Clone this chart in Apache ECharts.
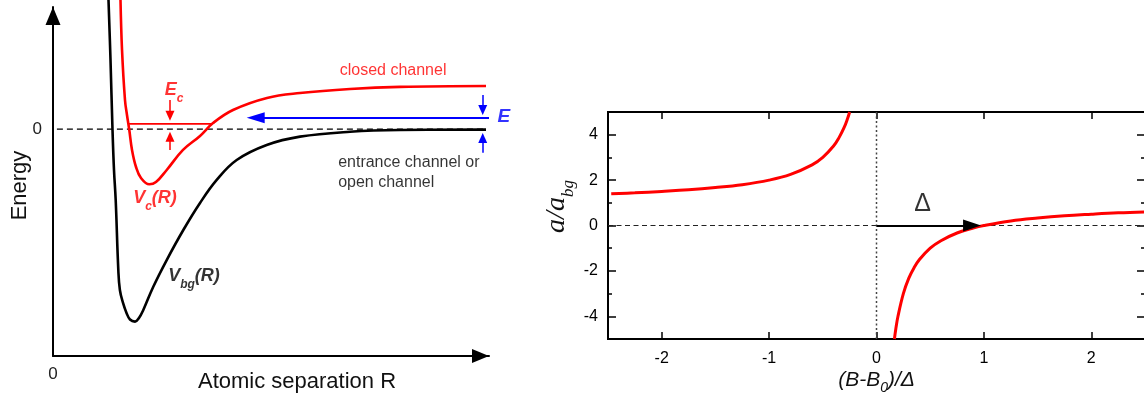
<!DOCTYPE html>
<html>
<head>
<meta charset="utf-8">
<script src="https://cdn.jsdelivr.net/npm/echarts@6.0.0/dist/echarts.min.js"></script>
<style>html,body{margin:0;padding:0;background:#fff}#c{width:1144px;height:394px}</style>
</head>
<body>
<div id="c"></div>
<script>
// ---- Left panel: potential curves (R in arbitrary units, energy in arbitrary units) ----
const bgR = [1.273, 1.319, 1.365, 1.399, 1.438, 1.498, 1.534, 1.606, 1.686, 1.766, 1.881, 1.972, 2.071, 2.300, 2.608, 2.989, 3.372, 3.755, 4.213, 4.901, 5.665, 6.812, 7.959, 9.931];
const bgE = [7.40, 3.96, -0.05, -2.34, -4.06, -8.07, -9.22, -9.96, -10.53, -10.91, -11.03, -10.82, -10.36, -9.03, -7.50, -5.78, -4.23, -2.91, -1.77, -0.91, -0.43, -0.15, -0.05, -0.03];
const cR = [1.548, 1.583, 1.651, 1.697, 1.750, 1.812, 1.904, 2.018, 2.209, 2.362, 2.608, 2.982, 3.372, 3.670, 4.128, 4.908, 5.665, 6.812, 7.959, 9.931];
const cE = [7.40, 4.54, 1.67, 0.81, -0.05, -1.19, -2.17, -2.80, -3.16, -3.03, -2.34, -1.19, -0.39, 0.35, 1.10, 1.79, 2.07, 2.30, 2.42, 2.47];
const leftXTicks = [0];
const leftYTicks = [0];
const closedLevelE = 0.30;

// ---- Right panel: a/a_bg vs (B-B0)/Delta ----
const negX = [-2.47, -2.25, -2.0, -1.75, -1.5, -1.25, -1.0, -0.8, -0.6, -0.5, -0.4, -0.35, -0.3, -0.27, -0.25];
const negY = [1.40, 1.44, 1.50, 1.57, 1.67, 1.80, 2.00, 2.25, 2.67, 3.00, 3.50, 3.86, 4.33, 4.70, 5.00];
const posX = [0.167, 0.18, 0.2, 0.25, 0.3, 0.35, 0.4, 0.5, 0.6, 0.75, 0.9, 1.0, 1.25, 1.5, 1.75, 2.0, 2.25, 2.5];
const posY = [-5.0, -4.55, -4.0, -3.0, -2.33, -1.86, -1.5, -1.0, -0.67, -0.33, -0.11, 0.0, 0.2, 0.33, 0.43, 0.5, 0.56, 0.6];
const rightXTicks = [-2, -1, 0, 1, 2];
const rightYMajor = [-4, -2, 0, 2, 4];
const rightYMinor = [-3, -1, 1, 3];

const FONT = '"Liberation Sans", Arial, Helvetica, sans-serif';
const SERIF = '"Liberation Serif", "Times New Roman", serif';
const RED = '#ff0000', BLUE = '#0000ff', BLACK = '#000000';
const zip = (a, b) => a.map((v, i) => [v, b[i]]);

function richLab(color, main, sub) {
  return {
    m: {fontSize: main, fontWeight: 'bold', fontStyle: 'italic', color: color, fontFamily: FONT, lineHeight: 30, verticalAlign: 'middle'},
    s: {fontSize: sub, fontWeight: 'bold', fontStyle: 'italic', color: color, fontFamily: FONT, lineHeight: 14, verticalAlign: 'bottom'}
  };
}
function arrow(from, to, color, size, width) {
  return [
    {coord: from, symbol: 'none', lineStyle: {color: color, width: width, type: 'solid'}},
    {coord: to, symbol: 'triangle', symbolSize: size, itemStyle: {color: color}}
  ];
}

const chart = echarts.init(document.getElementById('c'), null, {renderer: 'canvas', width: 1144, height: 394});

const noSplit = {show: false};
const tickStyle = {color: BLACK, width: 1.5};

const option = {
  animation: false,
  backgroundColor: '#ffffff',
  grid: [
    {left: 53, top: 7, width: 436, height: 349, containLabel: false, outerBoundsMode: 'none'},
    {left: 608, top: 112, width: 537, height: 227, containLabel: false, outerBoundsMode: 'none',
     show: true, borderColor: BLACK, borderWidth: 2, backgroundColor: 'transparent'}
  ],
  xAxis: [
    {gridIndex: 0, type: 'value', min: 0, max: 10, position: 'bottom',
     axisLine: {show: true, onZero: false, symbol: ['none', 'triangle'], symbolSize: [14, 17], symbolOffset: [0, -8.5], lineStyle: {color: BLACK, width: 2}},
     axisTick: {show: false}, splitLine: noSplit,
     axisLabel: {show: true, customValues: leftXTicks, margin: 10, fontSize: 17, color: '#222', fontFamily: FONT},
     name: 'Atomic separation R', nameLocation: 'middle', nameGap: 15, nameMoveOverlap: false,
     nameTextStyle: {fontSize: 22, color: '#111', fontFamily: FONT, padding: [0, 0, 0, 52]}},
    {gridIndex: 1, type: 'value', min: -2.5, max: 2.5, position: 'bottom',
     axisLine: {show: false, onZero: false},
     axisTick: {show: true, inside: true, length: 7, customValues: rightXTicks, lineStyle: tickStyle},
     axisLabel: {show: true, customValues: rightXTicks, margin: 12, fontSize: 16, color: BLACK, fontFamily: FONT},
     splitLine: noSplit,
     name: '{m|(B-B}{s|0}{m|)/Δ}', nameLocation: 'middle', nameGap: 26, nameMoveOverlap: false,
     nameTextStyle: {rich: {
       m: {fontSize: 21, fontStyle: 'italic', color: '#111', fontFamily: FONT, lineHeight: 30, verticalAlign: 'middle'},
       s: {fontSize: 14, fontStyle: 'italic', color: '#111', fontFamily: FONT, lineHeight: 14, verticalAlign: 'bottom'}
     }}},
    {gridIndex: 1, type: 'value', min: -2.5, max: 2.5, position: 'top',
     axisLine: {show: false, onZero: false},
     axisTick: {show: true, inside: true, length: 7, customValues: rightXTicks, lineStyle: tickStyle},
     axisLabel: {show: false}, splitLine: noSplit}
  ],
  yAxis: [
    {gridIndex: 0, type: 'value', min: -13, max: 7, position: 'left',
     axisLine: {show: true, onZero: false, symbol: ['none', 'triangle'], symbolSize: [15, 18], symbolOffset: [0, -9], lineStyle: {color: BLACK, width: 2}},
     axisTick: {show: false}, splitLine: noSplit,
     axisLabel: {show: true, customValues: leftYTicks, margin: 11, fontSize: 17, color: '#222', fontFamily: FONT},
     name: 'Energy', nameLocation: 'middle', nameRotate: 90, nameGap: 22, nameMoveOverlap: false,
     nameTextStyle: {fontSize: 22, color: '#111', fontFamily: FONT, padding: [0, 8, 0, 0]}},
    {gridIndex: 1, type: 'value', min: -5, max: 5, position: 'left',
     axisLine: {show: false, onZero: false},
     axisTick: {show: true, inside: true, length: 8, customValues: rightYMajor, lineStyle: tickStyle},
     axisLabel: {show: true, customValues: rightYMajor, margin: 10, fontSize: 16, color: BLACK, fontFamily: FONT},
     splitLine: noSplit,
     name: '{m|a/a}{s|bg}', nameLocation: 'middle', nameRotate: 90, nameGap: 31, nameMoveOverlap: false,
     nameTextStyle: {padding: [0, 0, 0, 38], rich: {
       m: {fontSize: 28, fontStyle: 'italic', color: '#111', fontFamily: SERIF, lineHeight: 40, verticalAlign: 'middle'},
       s: {fontSize: 17, fontStyle: 'italic', color: '#111', fontFamily: SERIF, lineHeight: 14, verticalAlign: 'bottom'}
     }}},
    {gridIndex: 1, type: 'value', min: -5, max: 5, position: 'left',
     axisLine: {show: false, onZero: false},
     axisTick: {show: true, inside: true, length: 4, customValues: rightYMinor, lineStyle: tickStyle},
     axisLabel: {show: false}, splitLine: noSplit},
    {gridIndex: 1, type: 'value', min: -5, max: 5, position: 'right',
     axisLine: {show: false, onZero: false},
     axisTick: {show: true, inside: true, length: 8, customValues: rightYMajor, lineStyle: tickStyle},
     axisLabel: {show: false}, splitLine: noSplit},
    {gridIndex: 1, type: 'value', min: -5, max: 5, position: 'right',
     axisLine: {show: false, onZero: false},
     axisTick: {show: true, inside: true, length: 4, customValues: rightYMinor, lineStyle: tickStyle},
     axisLabel: {show: false}, splitLine: noSplit}
  ],
  series: [
    // left panel
    {type: 'line', xAxisIndex: 0, yAxisIndex: 0, data: [[-0.14, 0], [9.93, 0]], showSymbol: false, clip: false, silent: true,
     lineStyle: {color: BLACK, width: 1.3, type: [6, 4]}, z: 2},
    {type: 'line', xAxisIndex: 0, yAxisIndex: 0, data: zip(bgR, bgE), showSymbol: false, clip: false, silent: true,
     smooth: 0.4, lineStyle: {color: BLACK, width: 2.6}, z: 3},
    {type: 'line', xAxisIndex: 0, yAxisIndex: 0, data: zip(cR, cE), showSymbol: false, clip: false, silent: true,
     smooth: 0.4, lineStyle: {color: RED, width: 2.6}, z: 4},
    {type: 'line', xAxisIndex: 0, yAxisIndex: 0, data: [[1.727, closedLevelE], [3.636, closedLevelE]], showSymbol: false, clip: false, silent: true,
     lineStyle: {color: RED, width: 1.6}, z: 4},
    {type: 'line', xAxisIndex: 0, yAxisIndex: 0, data: [], silent: true, z: 5,
     markLine: {silent: true, animation: false, symbol: ['none', 'triangle'], label: {show: false}, emphasis: {disabled: true},
       data: [
         arrow([2.683, 1.67], [2.683, 0.77], RED, [9, 10], 1.5),
         arrow([2.683, -1.19], [2.683, -0.43], RED, [9, 10], 1.5),
         arrow([10.0, 0.66], [4.649, 0.66], BLUE, [11, 18], 1.8),
         arrow([9.856, 1.96], [9.856, 1.10], BLUE, [9, 10], 1.5),
         arrow([9.856, -1.35], [9.856, -0.51], BLUE, [9, 10], 1.5)
       ]}},
    {type: 'scatter', xAxisIndex: 0, yAxisIndex: 0, symbolSize: 0, clip: false, silent: true, z: 6,
     label: {show: true, position: 'inside', fontFamily: FONT},
     data: [
       {value: [7.80, 3.38], label: {formatter: 'closed channel', color: RED, fontSize: 16}},
       {value: [6.54, -2.47], label: {formatter: 'entrance channel or\nopen channel', align: 'left', color: '#000', fontSize: 16, lineHeight: 20}},
       {value: [2.775, 2.24], label: {formatter: '{m|E}{s|c}', rich: richLab(RED, 18, 12)}},
       {value: [10.34, 0.69], label: {formatter: '{m|E}', rich: richLab(BLUE, 19, 12)}},
       {value: [2.339, -3.94], label: {formatter: '{m|V}{s|c}{m|(R)}', rich: richLab(RED, 18, 12)}},
       {value: [3.234, -8.42], label: {formatter: '{m|V}{s|bg}{m|(R)}', rich: richLab(BLACK, 18, 12)}}
     ]},
    // right panel
    {type: 'line', xAxisIndex: 1, yAxisIndex: 1, data: [[-2.5, 0], [2.5, 0]], showSymbol: false, silent: true,
     lineStyle: {color: '#222', width: 1.2, type: [5, 3.5]}, z: 2},
    {type: 'line', xAxisIndex: 1, yAxisIndex: 1, data: [[0, -5], [0, 5]], showSymbol: false, silent: true,
     lineStyle: {color: '#444', width: 1.5, type: [2, 2.5]}, z: 2},
    {type: 'line', xAxisIndex: 1, yAxisIndex: 1, data: zip(negX, negY), showSymbol: false, silent: true,
     smooth: 0.4, lineStyle: {color: RED, width: 3}, z: 3},
    {type: 'line', xAxisIndex: 1, yAxisIndex: 1, data: zip(posX, posY), showSymbol: false, silent: true,
     smooth: 0.4, lineStyle: {color: RED, width: 3}, z: 3},
    {type: 'line', xAxisIndex: 1, yAxisIndex: 1, data: [], silent: true, z: 5,
     markLine: {silent: true, animation: false, symbol: ['none', 'triangle'], label: {show: false}, emphasis: {disabled: true},
       data: [arrow([0, 0], [0.890, 0], BLACK, [12, 18], 2.2)]}},
    {type: 'scatter', xAxisIndex: 1, yAxisIndex: 1, symbolSize: 0, silent: true, z: 6,
     label: {show: true, position: 'inside', formatter: 'Δ', fontSize: 25, color: BLACK, fontFamily: FONT},
     data: [[0.43, 0.95]]}
  ]
};
chart.setOption(option);
</script>
</body>
</html>
